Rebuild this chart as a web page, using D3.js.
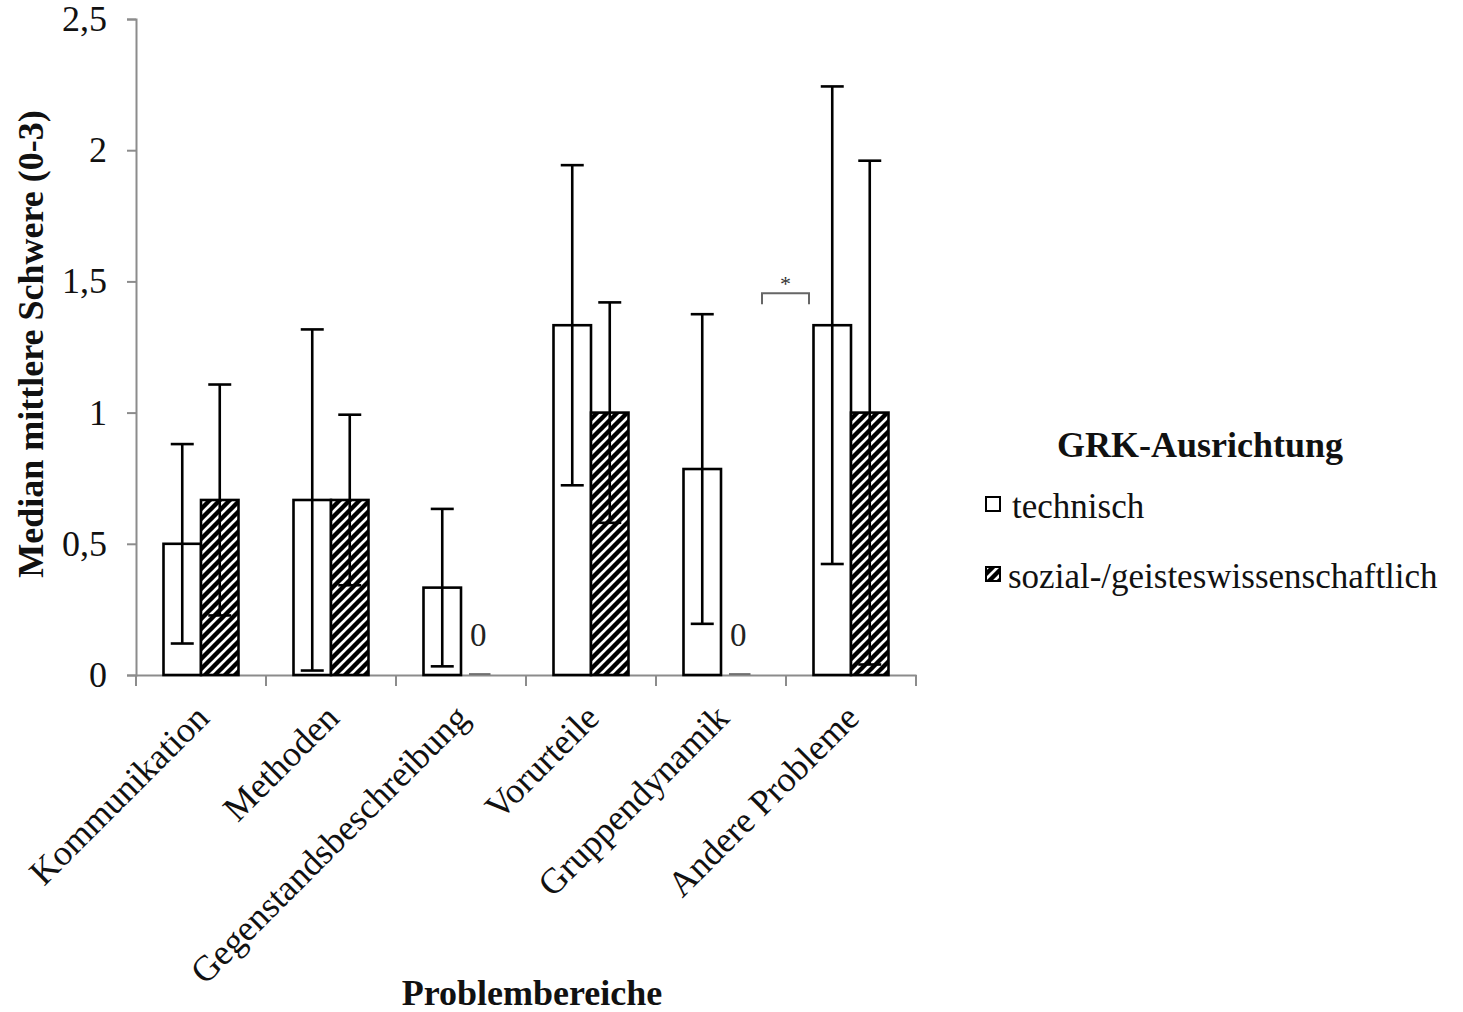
<!DOCTYPE html>
<html><head><meta charset="utf-8">
<script src="https://cdn.jsdelivr.net/npm/d3@7"></script>
<style>body{margin:0;background:#fff}svg{display:block}</style>
</head><body>
<svg id="c" width="1463" height="1012"></svg>
<script>
const categories = ["Kommunikation","Methoden","Gegenstandsbeschreibung","Vorurteile","Gruppendynamik","Andere Probleme"];
const seriesNames = ["technisch","sozial-/geisteswissenschaftlich"];
const technisch = [0.5, 0.667, 0.333, 1.333, 0.785, 1.333];
const technischErr = [0.38, 0.65, 0.30, 0.61, 0.59, 0.91];
const sozial = [0.667, 0.667, 0, 1.0, 0, 1.0];
const sozialErr = [0.44, 0.325, 0, 0.42, 0, 0.96];
const yTicks = [0, 0.5, 1, 1.5, 2, 2.5];

const svg = d3.select("#c");
const font = "Liberation Serif, Times New Roman, serif";
const L = 136, R = 916, T = 19, B = 675;

const defs = svg.append("defs");
const pat = defs.append("pattern").attr("id","hatch").attr("patternUnits","userSpaceOnUse")
  .attr("width",10).attr("height",10);
pat.append("rect").attr("width",10).attr("height",10).attr("fill","#fff");
pat.append("path").attr("d","M-3,3 l6,-6 M0,10 l10,-10 M7,13 l6,-6").attr("stroke","#000").attr("stroke-width",4.4);

const x = d3.scaleBand().domain(categories).range([L, R]).paddingInner(0).paddingOuter(0);
const barW = 37.5;
const xs = d3.scaleBand().domain(seriesNames).range([0, barW*2]);
const y = d3.scaleLinear().domain([0, 2.5]).range([B, T]);

const grey = "#8c8c8c";
const yAxis = svg.append("g").attr("transform",`translate(${L},0)`)
  .call(d3.axisLeft(y).tickValues(yTicks).tickSize(9).tickPadding(20).tickFormat(d => String(d).replace(".", ",")));
yAxis.select(".domain").attr("stroke",grey).attr("stroke-width",2);
yAxis.selectAll(".tick line").attr("stroke",grey).attr("stroke-width",2);
yAxis.selectAll("text").attr("font-family",font).attr("font-size",36).attr("fill","#111");

const xAxis = svg.append("g").attr("transform",`translate(0,${B})`)
  .call(d3.axisBottom(x).tickSize(0).tickFormat(""));
xAxis.select(".domain").attr("stroke",grey).attr("stroke-width",2);
const bounds = categories.map(c => x(c)).concat([R]);
svg.append("g").selectAll("line").data(bounds).join("line")
  .attr("x1",d=>d).attr("x2",d=>d).attr("y1",B).attr("y2",B+11)
  .attr("stroke",grey).attr("stroke-width",2);

const data = categories.map((c,i)=>({c, vals:[
  {s:seriesNames[0], v:technisch[i], e:technischErr[i]},
  {s:seriesNames[1], v:sozial[i], e:sozialErr[i]}]}));
const off = (x.bandwidth() - barW*2)/2;
const g = svg.append("g");
data.forEach(d => {
  d.vals.forEach((b, j) => {
    const bx = x(d.c) + off + xs(b.s);
    if (b.v > 0) {
      g.append("rect").attr("x",bx).attr("y",y(b.v)).attr("width",barW).attr("height",y(0)-y(b.v))
        .attr("fill", j===0 ? "#fff" : "url(#hatch)").attr("stroke","#000").attr("stroke-width",2.6);
      const cx = bx + barW/2;
      const lo = y(b.v - b.e), hi = y(b.v + b.e);
      g.append("line").attr("x1",cx).attr("x2",cx).attr("y1",lo).attr("y2",hi).attr("stroke","#000").attr("stroke-width",2.6);
      [lo,hi].forEach(yy => g.append("line").attr("x1",cx-11.5).attr("x2",cx+11.5).attr("y1",yy).attr("y2",yy).attr("stroke","#000").attr("stroke-width",2.6));
    } else {
      g.append("line").attr("x1",bx+8).attr("x2",bx+barW-8).attr("y1",B-1).attr("y2",B-1).attr("stroke","#555").attr("stroke-width",1.5);
      g.append("text").attr("x",bx+9).attr("y",y(0.11)).attr("font-family",font).attr("font-size",33)
        .attr("fill","#222").text("0");
    }
  });
});

const bx0 = x("Andere Probleme") - 24, bx1 = x("Andere Probleme") + 23, by = y(1.455);
svg.append("path").attr("d",`M${bx0},${by+11} V${by} H${bx1} V${by+11}`).attr("fill","none").attr("stroke","#666").attr("stroke-width",2);
svg.append("text").attr("x",(bx0+bx1)/2).attr("y",by-2).attr("text-anchor","middle").attr("font-family",font).attr("font-size",22).attr("fill","#333").text("*");

svg.append("g").selectAll("text").data(categories).join("text")
  .attr("transform", c => `translate(${x(c)+x.bandwidth()/2+10},${B+45}) rotate(-45)`)
  .attr("text-anchor","end").attr("font-family",font).attr("font-size",36).attr("fill","#111").text(c=>c);

svg.append("text").attr("x",532).attr("y",1005).attr("text-anchor","middle").attr("font-family",font)
  .attr("font-weight","bold").attr("font-size",36).attr("fill","#111").text("Problembereiche");
svg.append("text").attr("transform",`translate(43,344) rotate(-90)`).attr("text-anchor","middle").attr("font-family",font)
  .attr("font-weight","bold").attr("font-size",36).attr("fill","#111").text("Median mittlere Schwere (0-3)");

svg.append("text").attr("x",1200).attr("y",457).attr("text-anchor","middle").attr("font-family",font)
  .attr("font-weight","bold").attr("font-size",36).attr("fill","#111").text("GRK-Ausrichtung");
const leg = svg.append("g");
seriesNames.forEach((s,i) => {
  const yy = 497 + i*70;
  leg.append("rect").attr("x",986).attr("y",yy).attr("width",14).attr("height",14)
    .attr("fill", i===0 ? "#fff" : "url(#hatch)").attr("stroke","#000").attr("stroke-width",2);
  leg.append("text").attr("x",i===0?1012:1008).attr("y",yy+21).attr("font-family",font).attr("font-size",35).attr("fill","#111").text(s);
});
</script>
</body></html>
